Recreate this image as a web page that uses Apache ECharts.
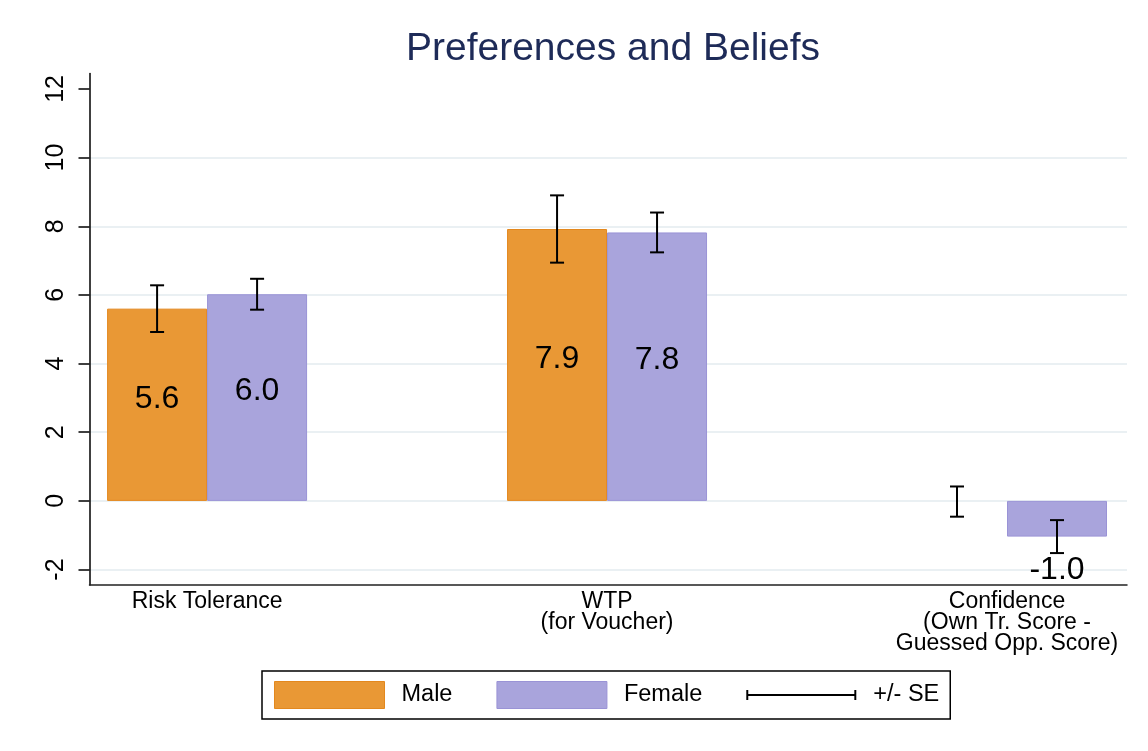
<!DOCTYPE html>
<html>
<head>
<meta charset="utf-8">
<title>Preferences and Beliefs</title>
<script src="https://cdn.jsdelivr.net/npm/echarts@6/dist/echarts.min.js"></script>
<style>
  html, body { margin: 0; padding: 0; background: #ffffff; }
  #chart { width: 1148px; height: 751px; }
</style>
</head>
<body>
<div id="chart"></div>
<script>
// Outcome groups, placed at x = 1, 2, 3 on the horizontal value axis
const categories = ['Risk Tolerance', 'WTP\n(for Voucher)', 'Confidence\n(Own Tr. Score -\nGuessed Opp. Score)'];
const categoryPos = [1, 2, 3];

// Group means
const maleMeans = [5.60, 7.92, -0.02];
const femaleMeans = [6.02, 7.82, -1.04];

// Standard errors
const maleSE = [0.68, 0.98, 0.44];
const femaleSE = [0.45, 0.58, 0.48];

// Which means carry a value label
const maleShowLabel = [true, true, false];
const femaleShowLabel = [true, true, true];

// Y axis tick values and gridlines
const yTicks = [-2, 0, 2, 4, 6, 8, 10, 12];
const yGridValues = [-2, 0, 2, 4, 6, 8, 10];

const FONT = '"Liberation Sans", Arial, Helvetica, sans-serif';
const MALE_COLOR = '#E99835';
const MALE_BORDER = '#E3881E';
const FEMALE_COLOR = '#A9A4DC';
const FEMALE_BORDER = '#9A93D6';

// Each bar spans a quarter of the spacing between groups; the pair sits side by side
const BAR_FRACTION = 0.25;
const HALF_BAR = BAR_FRACTION / 2;

function barData(means, showLabel) {
  return means.map((m, i) => {
    const item = { value: [categoryPos[i], m], label: { show: showLabel[i] } };
    if (m < 0) {
      // negative means are labelled below the bar
      item.label.position = 'bottom';
      item.label.distance = 18;
      item.label.offset = [0, 0];
    }
    if (!showLabel[i]) {
      // near-zero mean: no outline so it stays a hairline
      item.itemStyle = { borderWidth: 0, opacity: 0 };
    }
    return item;
  });
}

function errorData(means, se, shift) {
  return means.map((m, i) => [categoryPos[i] + shift, m - se[i], m + se[i]]);
}

const errorPoints = errorData(maleMeans, maleSE, -HALF_BAR)
  .concat(errorData(femaleMeans, femaleSE, HALF_BAR));

function renderErrorBar(params, api) {
  const x = api.value(0);
  const lo = api.coord([x, api.value(1)]);
  const hi = api.coord([x, api.value(2)]);
  const cap = 7;
  const style = { stroke: '#000000', lineWidth: 2, fill: null };
  return {
    type: 'group',
    children: [
      { type: 'line', shape: { x1: lo[0], y1: lo[1], x2: hi[0], y2: hi[1] }, style },
      { type: 'line', shape: { x1: hi[0] - cap, y1: hi[1], x2: hi[0] + cap, y2: hi[1] }, style },
      { type: 'line', shape: { x1: lo[0] - cap, y1: lo[1], x2: lo[0] + cap, y2: lo[1] }, style }
    ]
  };
}

const barLabel = {
  position: 'inside',
  offset: [0, -6],
  color: '#000000',
  fontFamily: FONT,
  fontSize: 32,
  formatter: p => p.value[1].toFixed(1)
};

const chart = echarts.init(document.getElementById('chart'), null, { renderer: 'canvas' });

chart.setOption({
  backgroundColor: '#ffffff',
  animation: false,
  title: {
    text: 'Preferences and Beliefs',
    left: 608,
    textAlign: 'center',
    top: 25,
    textStyle: { fontFamily: FONT, fontSize: 39, fontWeight: 'normal', color: '#1E2B58' }
  },
  legend: {
    left: 262,
    top: 671,
    orient: 'horizontal',
    padding: [10, 11, 10, 12],
    itemGap: 44,
    itemWidth: 110,
    itemHeight: 27,
    borderColor: '#000000',
    borderWidth: 1.5,
    textStyle: { fontFamily: FONT, fontSize: 23.5, color: '#000000', padding: [0, 0, 0, 12] },
    data: [
      { name: 'Male', icon: 'rect', itemStyle: { color: MALE_COLOR, borderColor: MALE_BORDER, borderWidth: 1 } },
      { name: 'Female', icon: 'rect', itemStyle: { color: FEMALE_COLOR, borderColor: FEMALE_BORDER, borderWidth: 1 } },
      {
        name: '+/- SE',
        icon: 'path://M0,5 h2 v10 h-2 z M2,9 h108 v2 h-108 z M110,5 h2 v10 h-2 z',
        itemStyle: { color: '#000000' }
      }
    ]
  },
  grid: { left: 89.5, right: 21, top: 73.5, bottom: 166, containLabel: false },
  xAxis: {
    type: 'value',
    min: 1 - 0.294,
    max: 3 + 0.3,
    splitLine: { show: false },
    axisLine: { show: true, onZero: false, lineStyle: { color: '#222222', width: 1.5 } },
    axisTick: { show: false },
    axisLabel: {
      customValues: categoryPos,
      formatter: v => categories[categoryPos.indexOf(Math.round(v))] || '',
      fontFamily: FONT,
      fontSize: 23,
      lineHeight: 21,
      color: '#000000',
      margin: 6
    }
  },
  yAxis: {
    type: 'value',
    min: -2.45,
    max: 12.45,
    splitLine: { show: false },
    axisLine: { show: true, onZero: false, lineStyle: { color: '#000000', width: 1.5 } },
    axisTick: { show: true, customValues: yTicks, length: 11, lineStyle: { color: '#000000', width: 1.5 } },
    axisLabel: {
      customValues: yTicks,
      rotate: 90,
      fontFamily: FONT,
      fontSize: 25,
      color: '#000000',
      margin: 21
    }
  },
  series: [
    {
      name: 'grid',
      type: 'line',
      data: [],
      z: 0,
      silent: true,
      markLine: {
        silent: true,
        symbol: 'none',
        z: 0,
        label: { show: false },
        lineStyle: { color: '#EAF0F3', width: 2, type: 'solid' },
        data: yGridValues.map(v => ({ yAxis: v }))
      }
    },
    {
      name: 'Male',
      type: 'bar',
      z: 2,
      barWidth: (BAR_FRACTION * 100) + '%',
      barGap: '0%',
      itemStyle: { color: MALE_COLOR, borderColor: MALE_BORDER, borderWidth: 1 },
      label: barLabel,
      data: barData(maleMeans, maleShowLabel)
    },
    {
      name: 'Female',
      type: 'bar',
      z: 2,
      barWidth: (BAR_FRACTION * 100) + '%',
      barGap: '0%',
      itemStyle: { color: FEMALE_COLOR, borderColor: FEMALE_BORDER, borderWidth: 1 },
      label: barLabel,
      data: barData(femaleMeans, femaleShowLabel)
    },
    {
      name: '+/- SE',
      type: 'custom',
      z: 4,
      renderItem: renderErrorBar,
      encode: { x: 0, y: [1, 2] },
      itemStyle: { color: '#000000' },
      data: errorPoints
    }
  ]
});
</script>
</body>
</html>
